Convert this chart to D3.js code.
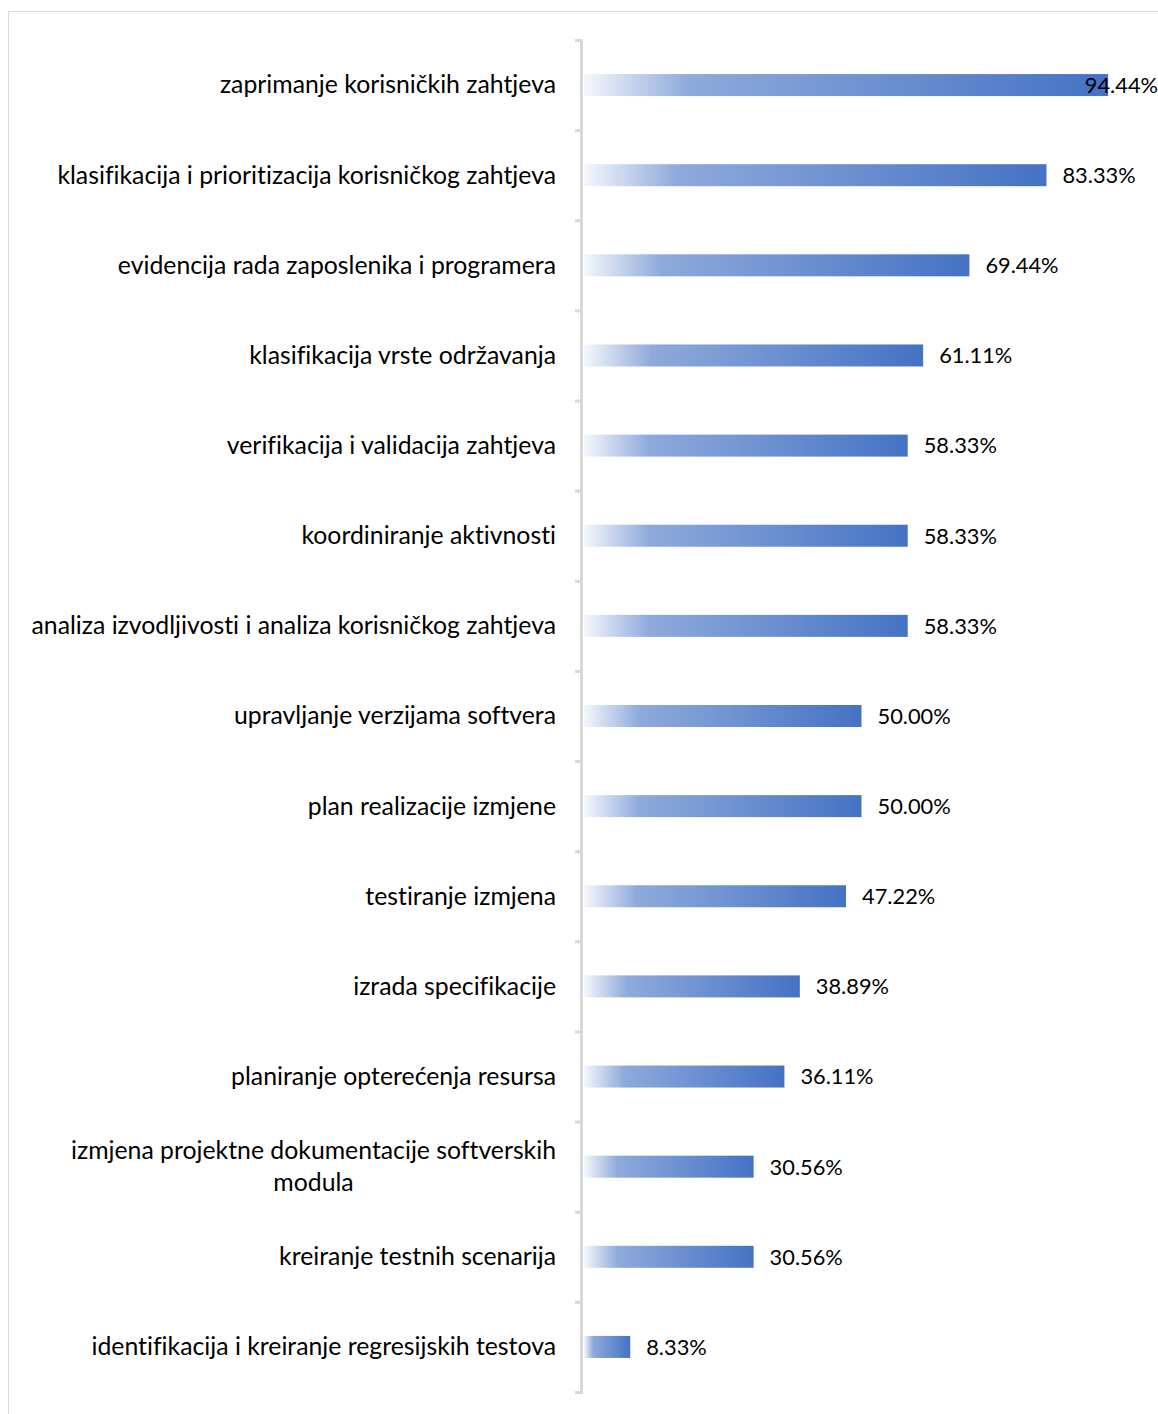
<!DOCTYPE html>
<html lang="hr">
  <head>
    <meta charset="UTF-8" />
    <title>Aktivnosti održavanja</title>
    <script src="https://d3js.org/d3.v7.min.js"></script>
    <style>
      body {
        margin: 0;
        background: #fff;
        font-family: Lato, "Open Sans", Arial, sans-serif;
      }
      svg {
        display: block;
      }
      text {
        font-variant-ligatures: none;
      }
    </style>
  </head>
  <body>
    <svg id="chart" width="1158" height="1414"></svg>

    <script>
      // categories (top to bottom) and their shares in %
      const categories = [
        "zaprimanje korisničkih zahtjeva",
        "klasifikacija i prioritizacija korisničkog zahtjeva",
        "evidencija rada zaposlenika i programera",
        "klasifikacija vrste održavanja",
        "verifikacija i validacija zahtjeva",
        "koordiniranje aktivnosti",
        "analiza izvodljivosti i analiza korisničkog zahtjeva",
        "upravljanje verzijama softvera",
        "plan realizacije izmjene",
        "testiranje izmjena",
        "izrada specifikacije",
        "planiranje opterećenja resursa",
        "izmjena projektne dokumentacije softverskih\nmodula",
        "kreiranje testnih scenarija",
        "identifikacija i kreiranje regresijskih testova",
      ];
      const values = [
        94.44, 83.33, 69.44, 61.11, 58.33, 58.33, 58.33, 50.0, 50.0, 47.22,
        38.89, 36.11, 30.56, 30.56, 8.33,
      ];

      const W = 1158;
      const H = 1414;
      const axisX = 581;
      const plotTop = 40;
      const plotBottom = 1392;

      const svg = d3.select("#chart");

      // chart area border (runs off the right and bottom edges)
      svg
        .append("rect")
        .attr("x", 8.5)
        .attr("y", 11.5)
        .attr("width", W + 20)
        .attr("height", H + 20)
        .attr("fill", "#fff")
        .attr("stroke", "#d9d9d9")
        .attr("stroke-width", 1);

      const defs = svg.append("defs");
      const grad = defs
        .append("linearGradient")
        .attr("id", "barGrad")
        .attr("x1", "0%")
        .attr("x2", "100%")
        .attr("y1", "0%")
        .attr("y2", "0%");
      grad.append("stop").attr("offset", "0%").attr("stop-color", "#f5f7fc");
      grad.append("stop").attr("offset", "20%").attr("stop-color", "#8eaadb");
      grad.append("stop").attr("offset", "100%").attr("stop-color", "#4472c4");

      const x = d3.scaleLinear().domain([0, 100]).range([584, 1139]);
      const y = d3
        .scaleBand()
        .domain(categories)
        .range([plotTop, plotBottom])
        .paddingInner(0)
        .paddingOuter(0);
      const barH = 22;

      // category axis: line plus ticks at band edges
      const edge = d3
        .scaleLinear()
        .domain([0, categories.length])
        .range([plotTop, plotBottom]);
      const axis = svg
        .append("g")
        .attr("transform", `translate(${axisX},0)`)
        .call(
          d3
            .axisLeft(edge)
            .tickValues(d3.range(categories.length + 1))
            .tickSize(6)
            .tickSizeOuter(6)
            .tickFormat("")
        );
      axis.selectAll("path, line").attr("stroke", "#d9d9d9").attr("stroke-width", 3);

      // bars
      svg
        .append("g")
        .selectAll("rect")
        .data(values)
        .join("rect")
        .attr("x", x(0))
        .attr("y", (d, i) => y(categories[i]) + y.bandwidth() / 2 - barH / 2)
        .attr("width", (d) => x(d) - x(0))
        .attr("height", barH)
        .attr("fill", "url(#barGrad)");

      // value labels
      svg
        .append("g")
        .selectAll("text")
        .data(values)
        .join("text")
        .attr("y", (d, i) => y(categories[i]) + y.bandwidth() / 2)
        .attr("dy", "0.36em")
        .attr("fill", "#000")
        .style("font-size", "21.8px")
        .text((d) => d.toFixed(2) + "%")
        .attr("x", function (d) {
          const w = this.getComputedTextLength();
          return Math.min(x(d) + 16, W - w);
        });

      // category labels, right aligned, wrapped ones centred on their block
      const labelRight = 556;
      const lineH = 32;
      categories.forEach((c, i) => {
        const lines = c.split("\n");
        const cy = y(c) + y.bandwidth() / 2;
        const t = svg
          .append("text")
          .attr("fill", "#000")
          .style("font-size", "24.8px");
        lines.forEach((ln, j) => {
          t.append("tspan")
            .attr("y", cy + (j - (lines.length - 1) / 2) * lineH)
            .attr("dy", "0.34em")
            .text(ln);
        });
        if (lines.length === 1) {
          t.attr("text-anchor", "end").selectAll("tspan").attr("x", labelRight);
        } else {
          let maxW = 0;
          t.selectAll("tspan").each(function () {
            maxW = Math.max(maxW, this.getComputedTextLength());
          });
          t.attr("text-anchor", "middle")
            .selectAll("tspan")
            .attr("x", labelRight - maxW / 2);
        }
      });
    </script>
  </body>
</html>
